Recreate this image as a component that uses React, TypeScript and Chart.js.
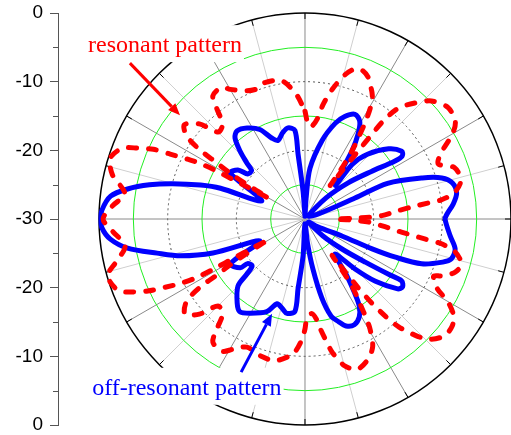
import React, { useEffect, useRef } from "react";
import { Chart, registerables } from "chart.js";

Chart.register(...registerables);

// ---- data (angle in degrees, clockwise from top; level in dB) ----
const R_MIN = -30;
const R_MAX = 0;

const resonantAngles = [
  0, 2, 4, 7, 9, 12, 15.5, 18, 21, 24, 26, 28, 29.6, 31.5, 33, 34.4, 35.6, 36.4, 37, 37.5, 38, 38.3, 38.6, 40,
  43.5, 47, 52, 57, 60, 64, 67.5, 71, 76, 80, 82, 82.6, 83.3, 85, 87.5, 89, 90, 91.5, 93, 95.5, 97.5, 98.3,
  99.5, 100.3, 102.4, 106, 109.5, 112.6, 114, 117.8, 120, 123, 126, 129.9, 134.3, 137, 139, 140.3, 141.5,
  142.3, 142.8, 143.3, 144, 144.5, 145.3, 147, 148.5, 149.4, 152, 155.8, 161, 165, 166.7, 168.5, 170, 172,
  173.5, 176, 179, 180, 181.4, 184.3, 187, 192, 197.4, 204.4, 209, 212, 216.8, 218.7, 221, 225, 228, 231.6,
  235.2, 237, 237.5, 238.5, 239.3, 240, 240.5, 241, 241.2, 241.3, 241.6, 242.5, 244, 245.4, 247, 249, 253.9,
  257.4, 261.5, 266.4, 270, 273.9, 278, 283, 287.4, 291.2, 293, 294.7, 295.7, 297, 298, 298.5, 298.7, 299,
  299.4, 299.8, 300.5, 301.3, 302.5, 303.3, 305, 308, 312, 315, 319, 321.3, 323.2, 327.8, 330, 335.6, 340,
  343.6, 350.5, 356, 360,
];
const resonantLevels = [
  -14.3, -16.3, -16.5, -15.3, -13.1, -10.6, -8.2, -7.1, -6.8, -7.4, -8.3, -9.2, -10.2, -12.7, -15.3, -17.6,
  -20.1, -22.4, -23.9, -21.3, -17.6, -14.3, -11.8, -9.0, -6.7, -4.8, -3.6, -3.9, -5.2, -7.9, -9.0, -7.0, -6.6,
  -7.9, -9.9, -11.9, -13.8, -16.5, -18.8, -22.3, -25.6, -22.7, -20.5, -18.3, -16.2, -14.9, -12.2, -9.8, -7.6,
  -6.3, -6.8, -8.4, -9.5, -8.2, -6.0, -4.2, -3.5, -3.5, -4.9, -7.1, -9.2, -11.4, -14.3, -17.6, -21.0, -23.4,
  -21.3, -19.5, -17.6, -15.3, -12.7, -11.4, -9.0, -7.6, -6.8, -7.9, -9.0, -10.2, -11.8, -13.8, -15.3, -16.2,
  -15.4, -14.0, -12.5, -10.6, -9.8, -8.9, -9.0, -9.5, -8.3, -7.3, -7.6, -9.5, -11.7, -12.1, -9.3, -7.7, -9.0,
  -11.8, -14.6, -17.3, -20.1, -22.4, -23.9, -21.3, -18.3, -15.0, -12.2, -9.8, -7.3, -4.8, -2.8, -0.9, -0.1,
  -1.9, -3.5, -1.9, -0.6, -1.9, -3.5, -1.2, -0.3, -1.5, -3.6, -5.7, -8.2, -10.8, -13.0, -15.4, -17.9, -20.1,
  -22.4, -23.9, -21.3, -17.6, -14.6, -11.8, -9.0, -7.7, -9.3, -12.1, -11.7, -9.5, -7.6, -7.3, -8.2, -9.5,
  -9.8, -9.3, -9.6, -11.8, -14.3,
];

const offResonantAngles = [
  0, 3, 5.6, 12.3, 17.5, 21.2, 25.5, 29.3, 32, 34.6, 36.7, 42.3, 40.8, 44, 50, 55, 57, 57.2, 54.4, 50, 45, 50,
  69, 67.2, 66.6, 70.7, 73.3, 76.3, 80.3, 84.2, 88, 90, 96.7, 101.3, 105.2, 107.4, 111, 112.9, 114, 114.7,
  121.6, 130, 133.4, 129, 125.6, 123.5, 122.6, 124.8, 127, 131.5, 135, 139.4, 143.5, 146, 148, 151, 155, 159,
  162, 165, 168, 171, 174, 180, 183, 185.7, 186.2, 190.8, 194.5, 198.2, 202.4, 210.3, 215.2, 219, 225, 226.5,
  228.4, 232.2, 233, 239, 244, 249.7, 253.5, 257, 260.7, 264.1, 267.5, 270, 272.5, 276.7, 279.6, 282.4, 284.9,
  288, 290, 292.7, 301.5, 306.2, 308.3, 312.2, 314, 316.3, 319.2, 322.3, 327.5, 333.2, 337.8, 341, 345.6,
  349.4, 353.5, 353.9, 356, 360,
];
const offResonantLevels = [
  -29.6, -27.1, -22.6, -18.3, -15.4, -14.0, -13.1, -13.7, -15.4, -17.9, -20.7, -23.4, -19.5, -16.9, -14.1,
  -12.8, -13.1, -14.4, -18.1, -21.8, -25.6, -29.3, -28.0, -22.1, -16.9, -11.9, -9.2, -7.9, -7.6, -8.3, -9.3,
  -9.6, -8.7, -7.7, -7.9, -9.0, -11.8, -15.7, -19.4, -24.0, -27.8, -29.3, -26.4, -23.0, -19.2, -15.4, -13.3,
  -12.7, -13.1, -16.3, -19.7, -23.3, -19.8, -17.2, -15.1, -13.7, -13.0, -13.3, -14.3, -15.4, -18.3, -22.6,
  -26.4, -29.3, -24.6, -19.8, -16.5, -16.0, -16.6, -17.0, -15.4, -14.1, -13.5, -14.3, -16.2, -18.3, -19.7,
  -19.4, -18.2, -17.3, -22.7, -15.7, -11.1, -7.9, -3.8, -1.5, -0.4, -0.3, -0.4, -1.5, -3.8, -6.8, -10.0, -14.0,
  -16.9, -23.2, -17.2, -17.9, -19.4, -19.5, -18.2, -16.3, -14.4, -13.8, -14.3, -15.4, -17.3, -17.9, -17.0,
  -16.5, -17.0, -20.5, -25.9, -29.6,
];

// left axis: values in chart units (distance from centre, dB + 30) and their labels
const axisTickValues = [30, 20, 10, 0, -10, -20, -30];
const axisTickLabels = ["0", "-10", "-20", "-30", "-20", "-10", "0"];
const axisMinorValues = [25, 15, 5, -5, -15, -25];

// polar grid
const ringLevels = [-25, -20, -15, -10, -5, 0];
const ringKinds = ["green", "dotted", "green", "dotted", "green", "outer"];
const spokeStep = 15;

// annotations (chart units)
const resonantText = "resonant pattern";
const offResonantText = "off-resonant pattern";
const resonantTextPos = [-31.6, 24.3];
const offResonantTextPos = [-31.0, -25.6];
const resonantArrow = [-25.5, 22.7, -18.2, 15.1];
const offResonantArrow = [-9.3, -22.3, -4.8, -13.8];

const RED = "#ff0000";
const BLUE = "#0000ff";

function toXY(angles: number[], levels: number[]) {
  return angles.map((a, i) => {
    const r = Math.max(0, Math.min(R_MAX, levels[i]) - R_MIN);
    const t = (a * Math.PI) / 180;
    return { x: r * Math.sin(t), y: r * Math.cos(t) };
  });
}

function drawArrow(ctx: CanvasRenderingContext2D, x0: number, y0: number, x1: number, y1: number, color: string) {
  const ang = Math.atan2(y1 - y0, x1 - x0);
  const headLen = 12;
  const headW = 5;
  const bx = x1 - headLen * Math.cos(ang);
  const by = y1 - headLen * Math.sin(ang);
  ctx.save();
  ctx.strokeStyle = color;
  ctx.fillStyle = color;
  ctx.lineWidth = 3;
  ctx.beginPath();
  ctx.moveTo(x0, y0);
  ctx.lineTo(bx, by);
  ctx.stroke();
  ctx.beginPath();
  ctx.moveTo(x1, y1);
  ctx.lineTo(bx + headW * Math.sin(ang), by - headW * Math.cos(ang));
  ctx.lineTo(bx - headW * Math.sin(ang), by + headW * Math.cos(ang));
  ctx.closePath();
  ctx.fill();
  ctx.restore();
}

const polarGridPlugin = {
  id: "polarGrid",
  beforeDatasetsDraw(chart: any) {
    const { ctx, scales } = chart;
    const xs = scales.x;
    const ys = scales.y;
    const cx = xs.getPixelForValue(0);
    const cy = ys.getPixelForValue(0);
    const rad = (db: number) => xs.getPixelForValue(db - R_MIN) - cx;
    const outer = rad(R_MAX);
    ctx.save();
    // spokes
    for (let a = 0; a < 360; a += spokeStep) {
      const t = (a * Math.PI) / 180;
      ctx.beginPath();
      ctx.strokeStyle = a % 30 === 0 ? "#8a8a8a" : "#cfcfcf";
      ctx.lineWidth = 1;
      ctx.moveTo(cx, cy);
      ctx.lineTo(cx + outer * Math.sin(t), cy - outer * Math.cos(t));
      ctx.stroke();
    }
    // rings
    ringLevels.forEach((lv, i) => {
      const kind = ringKinds[i];
      ctx.beginPath();
      if (kind === "green") {
        ctx.setLineDash([]);
        ctx.strokeStyle = "#22ee22";
        ctx.lineWidth = 1;
      } else if (kind === "dotted") {
        ctx.setLineDash([2, 3]);
        ctx.strokeStyle = "#555555";
        ctx.lineWidth = 1;
      } else {
        ctx.setLineDash([]);
        ctx.strokeStyle = "#000000";
        ctx.lineWidth = 1.5;
      }
      ctx.arc(cx, cy, rad(lv), 0, Math.PI * 2);
      ctx.stroke();
    });
    ctx.setLineDash([]);
    // ticks on outer ring
    for (let a = 0; a < 360; a += spokeStep) {
      const t = (a * Math.PI) / 180;
      ctx.beginPath();
      ctx.strokeStyle = "#000000";
      ctx.lineWidth = 1;
      ctx.moveTo(cx + outer * Math.sin(t), cy - outer * Math.cos(t));
      ctx.lineTo(cx + (outer - 6) * Math.sin(t), cy - (outer - 6) * Math.cos(t));
      ctx.stroke();
    }
    ctx.restore();
  },
  afterDraw(chart: any) {
    const { ctx, scales } = chart;
    const xs = scales.x;
    const ys = scales.y;
    // minor ticks on the left axis
    ctx.save();
    ctx.strokeStyle = "#555555";
    ctx.lineWidth = 1;
    axisMinorValues.forEach((v) => {
      const py = Math.round(ys.getPixelForValue(v)) + 0.5;
      ctx.beginPath();
      ctx.moveTo(ys.right - 5, py);
      ctx.lineTo(ys.right, py);
      ctx.stroke();
    });
    // annotations
    const labels: [string, number[], string][] = [
      [resonantText, resonantTextPos, RED],
      [offResonantText, offResonantTextPos, BLUE],
    ];
    ctx.font = '24px "Liberation Serif", "Times New Roman", serif';
    ctx.textBaseline = "alphabetic";
    ctx.textAlign = "left";
    labels.forEach(([txt, pos, col]) => {
      const px = xs.getPixelForValue(pos[0]);
      const py = ys.getPixelForValue(pos[1]);
      const w = ctx.measureText(txt).width;
      ctx.fillStyle = "#ffffff";
      ctx.fillRect(px - 3, py - 27, w + 5, 37);
      ctx.fillStyle = col;
      ctx.fillText(txt, px, py);
    });
    const arrows: [number[], string][] = [
      [resonantArrow, RED],
      [offResonantArrow, BLUE],
    ];
    arrows.forEach(([a, col]) => {
      drawArrow(
        ctx,
        xs.getPixelForValue(a[0]),
        ys.getPixelForValue(a[1]),
        xs.getPixelForValue(a[2]),
        ys.getPixelForValue(a[3]),
        col
      );
    });
    ctx.restore();
  },
};

export default function App() {
  const ref = useRef<HTMLCanvasElement | null>(null);
  useEffect(() => {
    document.body.style.margin = "0";
    const canvas = ref.current;
    if (!canvas) return;
    const chart = new Chart(canvas, {
      type: "scatter",
      data: {
        datasets: [
          {
            label: "resonant pattern",
            data: toXY(resonantAngles, resonantLevels),
            showLine: true,
            borderColor: RED,
            backgroundColor: RED,
            borderWidth: 5,
            borderDash: [8, 12],
            borderCapStyle: "round",
            borderJoinStyle: "round",
            pointRadius: 0,
            tension: 0.3,
            clip: false,
          },
          {
            label: "off-resonant pattern",
            data: toXY(offResonantAngles, offResonantLevels),
            showLine: true,
            borderColor: BLUE,
            backgroundColor: BLUE,
            borderWidth: 5,
            borderCapStyle: "round",
            borderJoinStyle: "round",
            pointRadius: 0,
            tension: 0.3,
            clip: false,
          },
        ] as any,
      },
      options: {
        animation: false,
        responsive: false,
        devicePixelRatio: 1,
        layout: { padding: { left: 0, right: 0, top: 13, bottom: 10 } },
        plugins: { legend: { display: false }, tooltip: { enabled: false } },
        events: [],
        scales: {
          x: { type: "linear", display: false, min: -35.97, max: 30 },
          y: {
            type: "linear",
            position: "left",
            min: -30,
            max: 30,
            afterFit: (scale: any) => {
              scale.width = 58;
              scale.paddingTop = 0;
              scale.paddingBottom = 0;
            },
            afterBuildTicks: (scale: any) => {
              scale.ticks = axisTickValues.map((v) => ({ value: v }));
            },
            ticks: {
              autoSkip: false,
              padding: 7,
              color: "#000000",
              font: { family: '"Liberation Sans", Arial, sans-serif', size: 19 },
              callback: (v: any) => {
                const i = axisTickValues.indexOf(Number(v));
                return i >= 0 ? axisTickLabels[i] : "";
              },
            },
            grid: {
              display: true,
              drawOnChartArea: false,
              drawTicks: true,
              tickLength: 8,
              tickColor: "#555555",
            },
            border: { display: true, color: "#555555", width: 1 },
          },
        },
      } as any,
      plugins: [polarGridPlugin],
    });
    return () => chart.destroy();
  }, []);
  return (
    <div style={{ width: 511, height: 435 }}>
      <canvas ref={ref} width={511} height={435} style={{ display: "block" }} />
    </div>
  );
}
